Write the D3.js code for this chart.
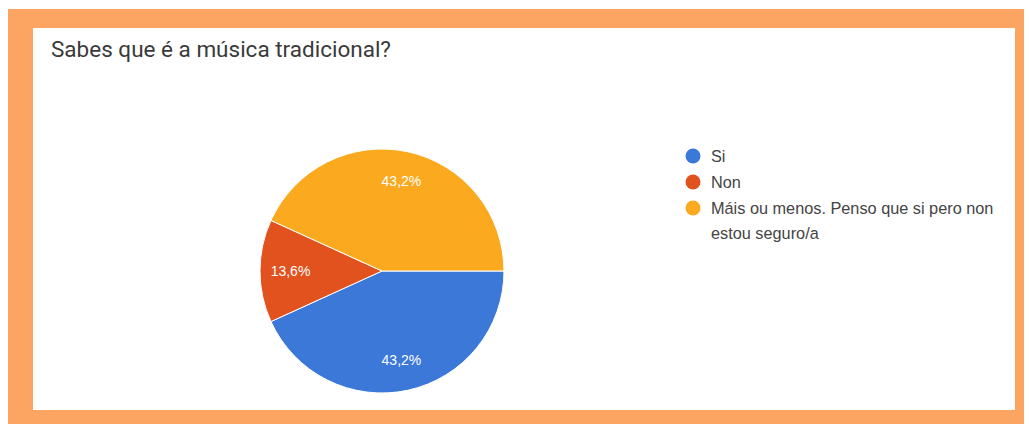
<!DOCTYPE html>
<html>
<head>
<meta charset="utf-8">
<script src="https://cdn.jsdelivr.net/npm/d3@7"></script>
<style>
  body { margin: 0; background: #fff; }
  svg { font-family: Roboto, Arial, sans-serif; }
</style>
</head>
<body>
<script>
var width = 1029;
var height = 426;

// data
var categories = ['Si', 'Non', 'Máis ou menos. Penso que si pero non estou seguro/a'];
var legendLines = [['Si'], ['Non'], ['Máis ou menos. Penso que si pero non', 'estou seguro/a']];
var percents = [43.2, 13.6, 43.2];
var colors = ['#3c78d8', '#e1521f', '#fbaa1f'];

var svg = d3.select('body')
  .append('svg')
  .attr('width', width)
  .attr('height', height);

// orange frame + white card
svg.append('rect')
  .attr('x', 8).attr('y', 9)
  .attr('width', 1016).attr('height', 415)
  .attr('fill', '#fca562');

svg.append('rect')
  .attr('x', 33).attr('y', 28)
  .attr('width', 982).attr('height', 382)
  .attr('fill', '#fff');

svg.append('text')
  .attr('x', 51)
  .attr('y', 57)
  .attr('font-size', 22.5)
  .attr('fill', '#3a3a3a')
  .text('Sabes que é a música tradicional?');

// pie
var cx = 382, cy = 271, radius = 122;

var color = d3.scaleOrdinal().domain(categories).range(colors);

var pie = d3.pie()
  .sort(null)
  .startAngle(Math.PI / 2)
  .endAngle(Math.PI / 2 + 2 * Math.PI)
  .value(function(d) { return d.value; });

var arc = d3.arc().innerRadius(0).outerRadius(radius);
var labelArc = d3.arc().innerRadius(radius * 0.75).outerRadius(radius * 0.75);

var data = categories.map(function(c, i) { return { name: c, value: percents[i] }; });

var g = svg.append('g').attr('transform', 'translate(' + cx + ',' + cy + ')');

g.selectAll('path')
  .data(pie(data))
  .enter()
  .append('path')
  .attr('d', arc)
  .attr('fill', function(d) { return color(d.data.name); })
  .attr('stroke', '#fff')
  .attr('stroke-width', 1);

g.selectAll('text')
  .data(pie(data))
  .enter()
  .append('text')
  .attr('transform', function(d) { return 'translate(' + labelArc.centroid(d) + ')'; })
  .attr('text-anchor', 'middle')
  .attr('dy', '0.35em')
  .style('font-family', '"Liberation Sans", Arial, sans-serif')
  .attr('font-size', 14)
  .attr('fill', '#fff')
  .text(function(d) { return d3.format('.1f')(d.data.value).replace('.', ',') + '%'; });

// legend
var legendY = [156, 182, 208];

var legend = svg.append('g')
  .selectAll('g')
  .data(categories)
  .enter()
  .append('g')
  .attr('transform', function(d, i) { return 'translate(693,' + legendY[i] + ')'; });

legend.append('circle')
  .attr('r', 7.5)
  .attr('fill', color);

legend.append('text')
  .attr('x', 18)
  .attr('y', 5.5)
  .style('font-family', '"Liberation Sans", Arial, sans-serif')
  .attr('font-size', 16.3)
  .attr('fill', '#444')
  .selectAll('tspan')
  .data(function(d, i) { return legendLines[i]; })
  .enter()
  .append('tspan')
  .attr('x', 18)
  .attr('dy', function(d, i) { return i === 0 ? 0 : 25; })
  .text(function(d) { return d; });
</script>
</body>
</html>
